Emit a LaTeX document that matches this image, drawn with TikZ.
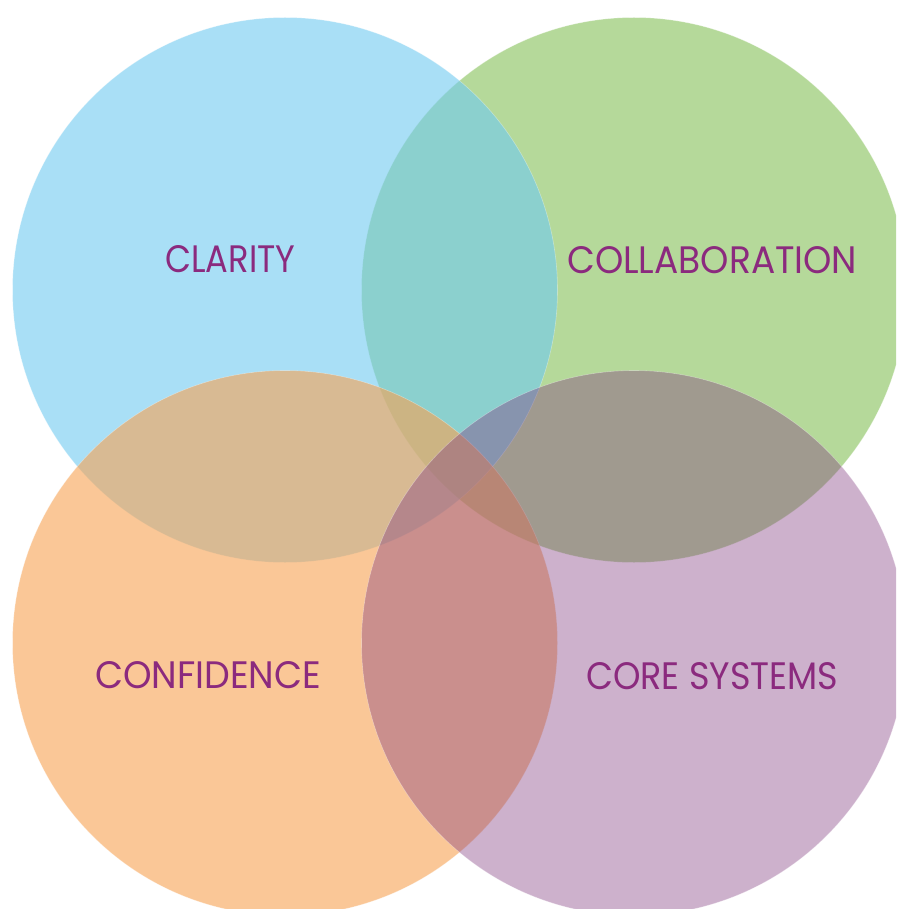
\documentclass[tikz,border=0pt]{standalone}
\usepackage{fontspec}
\setmainfont{Poppins}
\usepackage{graphicx}
\definecolor{cblue}{RGB}{112,202,241}
\definecolor{cgreen}{RGB}{133,192,88}
\definecolor{corange}{RGB}{248,162,82}
\definecolor{cpurple}{RGB}{130,60,128}
\definecolor{ctext}{RGB}{139,42,126}
\newcommand\capslabel[2]{\resizebox{#1pt}{27pt}{#2}}
\begin{document}
\begin{tikzpicture}[x=1pt,y=-1pt,
  venn/.style={fill=#1,fill opacity=0.6,draw=white,draw opacity=0.35,line width=0.6pt},
  lbl/.style={anchor=south west,inner sep=0pt,text=ctext}]
\useasboundingbox (0,0) rectangle (896,909);
\fill[white] (0,0) rectangle (896,909);
\begin{scope}
\clip (0,0) rectangle (896,909);
\path[venn=cgreen] (634,290) circle[radius=272.5];
\path[venn=cblue] (285,290) circle[radius=272.5];
\path[venn=corange] (285,643) circle[radius=272.5];
\path[venn=cpurple,fill opacity=0.4] (634,643) circle[radius=272.5];
\end{scope}
\node[lbl] (clarity) at (165,273) {\capslabel{130}{CLARITY}};
\node[lbl] (collab) at (567,273.5) {\capslabel{290}{COLLABORATION}};
\node[lbl] (conf) at (95,689) {\capslabel{226}{CONFIDENCE}};
\node[lbl] (core) at (586,689.5) {\capslabel{252}{CORE SYSTEMS}};
\end{tikzpicture}
\end{document}
